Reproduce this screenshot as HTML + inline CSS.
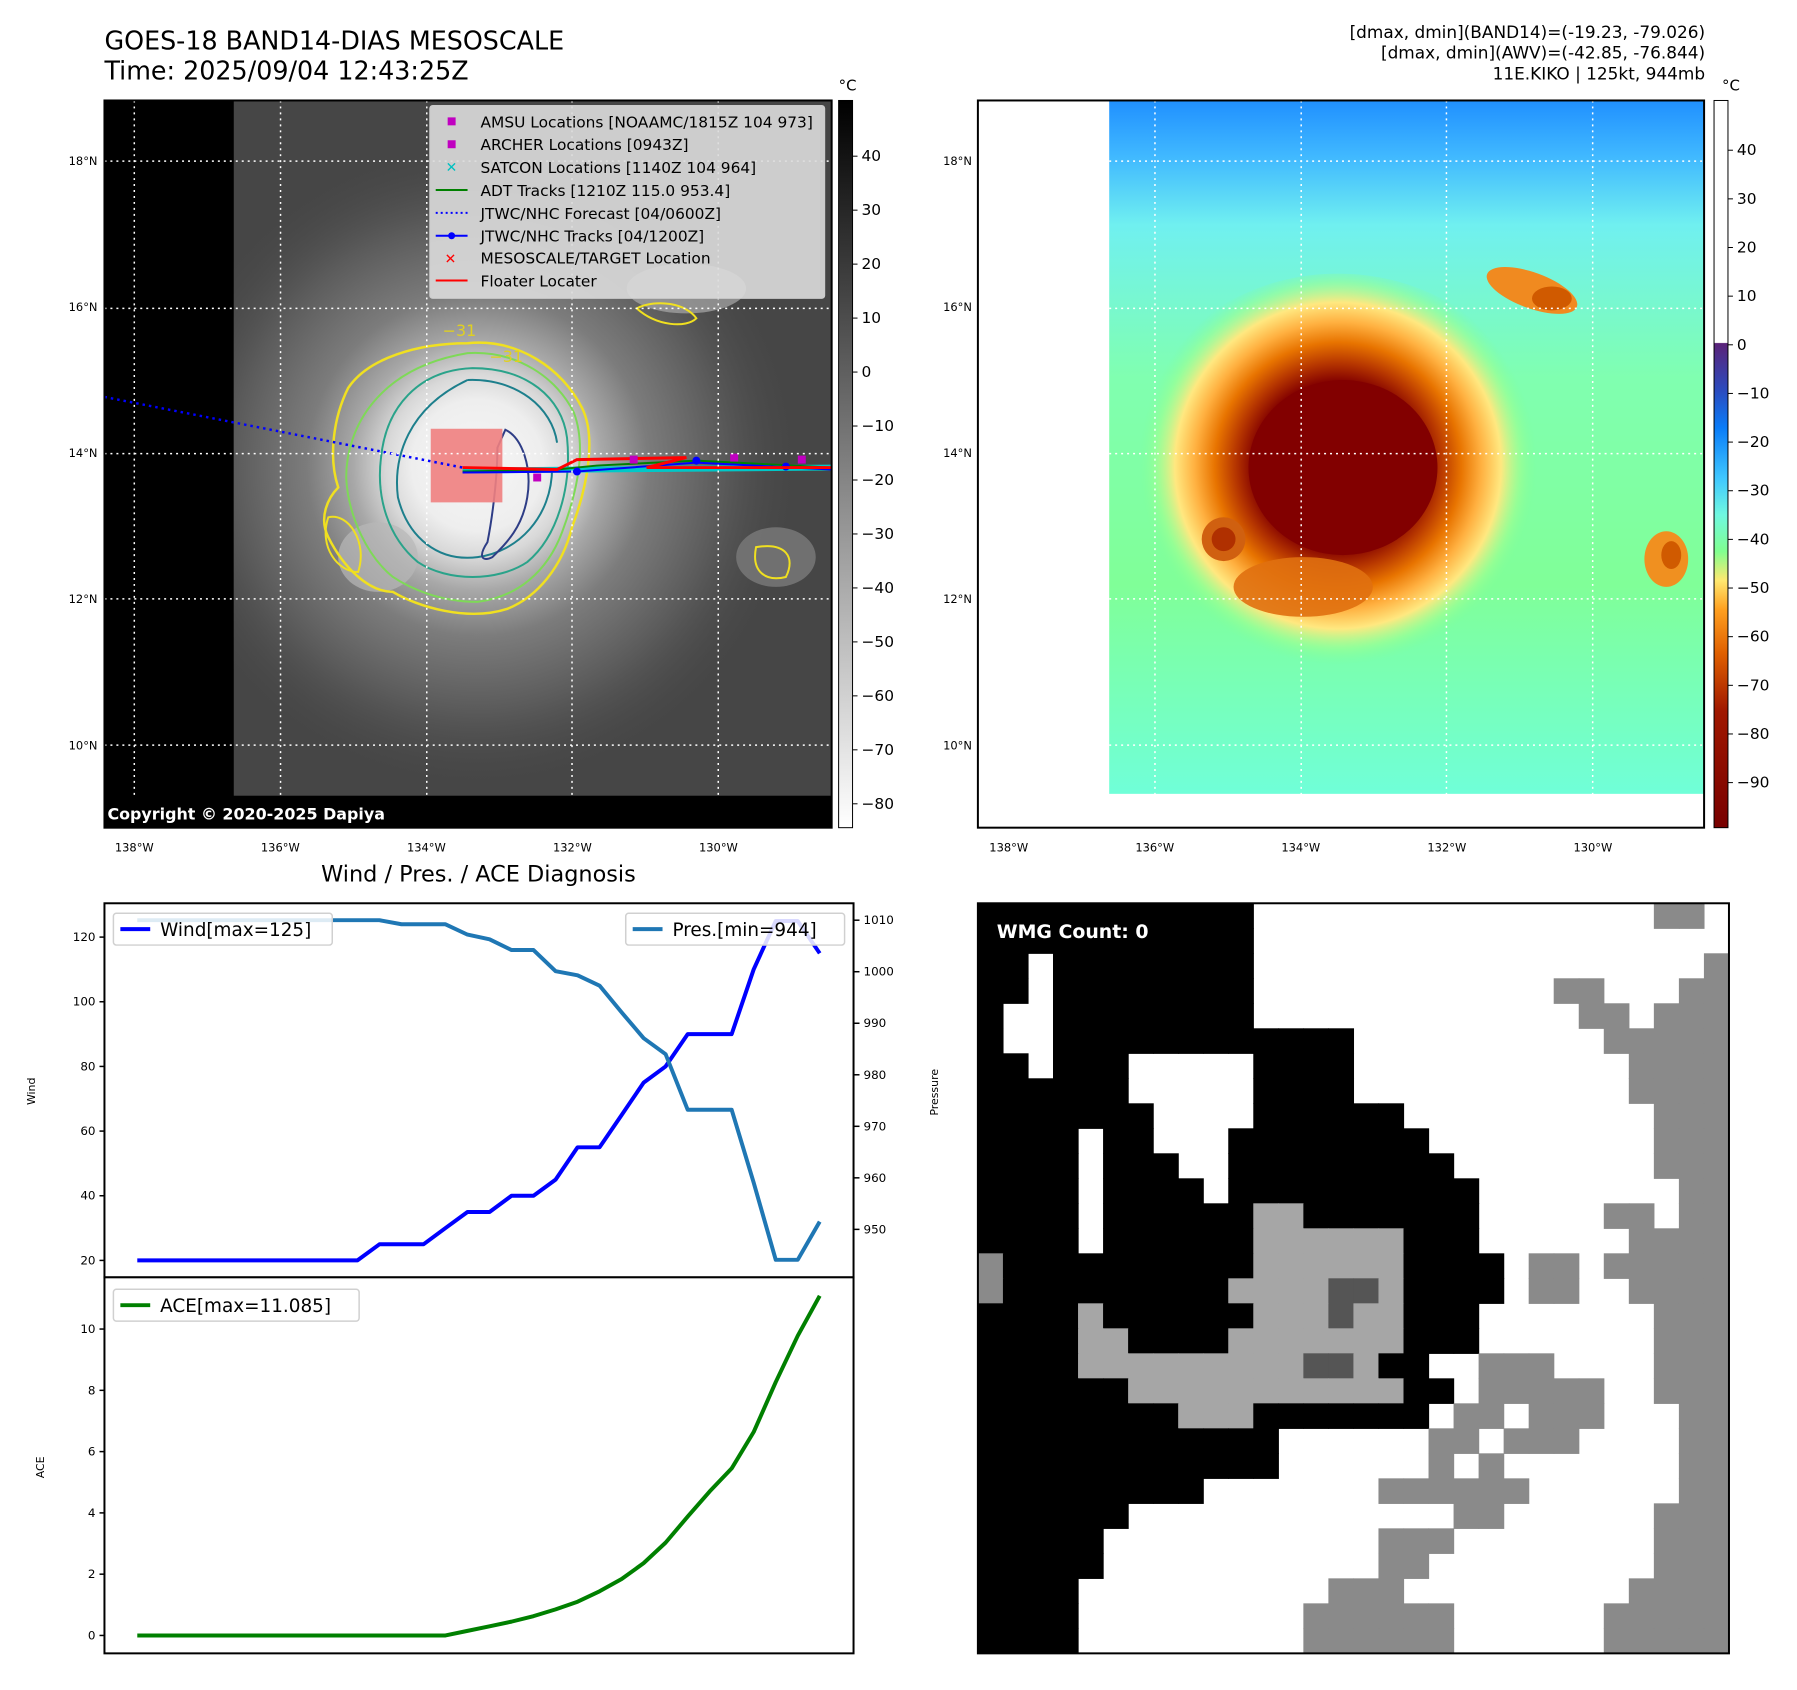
<!DOCTYPE html>
<html><head><meta charset="utf-8">
<style>
html,body{margin:0;padding:0;background:#fff;}
body{width:1797px;height:1690px;position:relative;overflow:hidden;font-family:"DejaVu Sans","Liberation Sans",sans-serif;}
svg{position:absolute;left:0;top:0;}
</style></head>
<body>
<svg id="fig" width="1797" height="1690" viewBox="0 0 1797 1690" xmlns="http://www.w3.org/2000/svg" font-family="DejaVu Sans, Liberation Sans, sans-serif">
<defs>
  <radialGradient id="stormGray" cx="480" cy="468" r="330" gradientUnits="userSpaceOnUse">
    <stop offset="0" stop-color="#f6f6f6"/>
    <stop offset="0.2" stop-color="#eeeeee"/>
    <stop offset="0.28" stop-color="#d8d8d8"/>
    <stop offset="0.38" stop-color="#a8a8a8"/>
    <stop offset="0.52" stop-color="#7c7c7c"/>
    <stop offset="0.75" stop-color="#5a5a5a"/>
    <stop offset="1" stop-color="#454545" stop-opacity="0"/>
  </radialGradient>
  <linearGradient id="cb1" x1="0" y1="0" x2="0" y2="1">
    <stop offset="0" stop-color="#000"/><stop offset="1" stop-color="#fff"/>
  </linearGradient>
  <linearGradient id="cb2" x1="0" y1="0" x2="0" y2="1">
    <stop offset="0" stop-color="#fff"/>
    <stop offset="0.333" stop-color="#fff"/>
    <stop offset="0.334" stop-color="#5a2278"/>
    <stop offset="0.40" stop-color="#2a4cc0"/>
    <stop offset="0.45" stop-color="#0a7cf8"/>
    <stop offset="0.52" stop-color="#40c8ff"/>
    <stop offset="0.57" stop-color="#70f8e0"/>
    <stop offset="0.62" stop-color="#80ff90"/>
    <stop offset="0.66" stop-color="#ffe870"/>
    <stop offset="0.70" stop-color="#ffa020"/>
    <stop offset="0.76" stop-color="#e06000"/>
    <stop offset="0.84" stop-color="#a01800"/>
    <stop offset="1" stop-color="#780000"/>
  </linearGradient>
  <linearGradient id="bg2" x1="0" y1="0" x2="0" y2="1">
    <stop offset="0" stop-color="#2090ff"/>
    <stop offset="0.08" stop-color="#40b8ff"/>
    <stop offset="0.18" stop-color="#70f0f0"/>
    <stop offset="0.4" stop-color="#80ffb0"/>
    <stop offset="0.7" stop-color="#80ff98"/>
    <stop offset="1" stop-color="#70ffd8"/>
  </linearGradient>
  <radialGradient id="stormColor" cx="1345" cy="468" r="200" gradientUnits="userSpaceOnUse">
    <stop offset="0" stop-color="#7a0000"/>
    <stop offset="0.42" stop-color="#820000"/>
    <stop offset="0.52" stop-color="#b83800"/>
    <stop offset="0.62" stop-color="#e87400"/>
    <stop offset="0.72" stop-color="#ffb040"/>
    <stop offset="0.82" stop-color="#ffe880"/>
    <stop offset="0.92" stop-color="#a0ff90" stop-opacity="0.6"/>
    <stop offset="1" stop-color="#80ff98" stop-opacity="0"/>
  </radialGradient>
  <clipPath id="clip1"><rect x="105" y="101" width="731" height="731"/></clipPath>
  <clipPath id="clip2"><rect x="983" y="101" width="730" height="731"/></clipPath>
</defs>
<g transform="scale(0.9948)">
<!-- Titles -->
<text x="105" y="50" font-size="25.5">GOES-18 BAND14-DIAS MESOSCALE</text>
<text x="105" y="80" font-size="25.5">Time: 2025/09/04 12:43:25Z</text>
<g font-size="17" text-anchor="end">
  <text x="1714" y="38">[dmax, dmin](BAND14)=(-19.23, -79.026)</text>
  <text x="1714" y="59">[dmax, dmin](AWV)=(-42.85, -76.844)</text>
  <text x="1714" y="80">11E.KIKO | 125kt, 944mb</text>
</g>

<!-- MAP 1 -->
<g clip-path="url(#clip1)">
  <rect x="105" y="101" width="731" height="731" fill="#000"/>
  <rect x="235" y="101" width="601" height="699" fill="#464646"/>
  <g clip-path="url(#clip1)">
    <rect x="235" y="101" width="601" height="699" fill="url(#stormGray)"/>
    <ellipse cx="690" cy="290" rx="60" ry="25" fill="#aaa" opacity="0.7"/>
    <ellipse cx="780" cy="560" rx="40" ry="30" fill="#7a7a7a" opacity="0.8"/>
    <ellipse cx="380" cy="560" rx="40" ry="35" fill="#b8b8b8" opacity="0.7"/>
  </g>
  <path d="M470 345 C520 340 565 370 585 410 C600 440 590 490 575 530 C565 570 540 600 510 612 C470 625 420 610 395 595 C370 595 345 570 330 540 C320 520 330 500 340 490 C330 460 335 420 350 390 C370 360 420 345 470 345 Z" fill="none" stroke="#f0e020" stroke-width="2.5"/>
  <path d="M470 355 C520 352 560 380 577 415 C590 450 580 495 565 535 C550 575 520 600 480 605 C440 605 410 590 395 580 C370 560 350 520 348 480 C348 430 380 370 470 355 Z" fill="none" stroke="#7ed957" stroke-width="2"/>
  <path d="M475 370 C530 370 565 400 570 440 C575 490 560 540 530 565 C500 585 450 585 420 565 C390 540 378 500 383 460 C388 410 420 372 475 370 Z" fill="none" stroke="#2aa38a" stroke-width="2"/>
  <path d="M470 382 C520 380 555 410 560 445 M555 470 C555 520 520 555 480 560 C440 565 410 540 400 500 C395 460 410 410 470 382" fill="none" stroke="#1d7f8c" stroke-width="2"/>
  <path d="M508 432 C525 440 535 470 530 500 C525 530 510 545 495 560 C485 565 480 560 490 545 C495 520 500 480 500 450 Z" fill="none" stroke="#2e3d86" stroke-width="2"/>
  <path d="M640 310 C660 300 690 305 700 320 C690 330 660 328 640 310 Z M760 550 C790 545 800 560 790 580 C770 585 755 575 760 550 Z M330 520 C350 515 370 545 360 575 C340 575 320 550 330 520 Z" fill="none" stroke="#f0e020" stroke-width="2"/>
  <text x="492" y="364" font-size="16" fill="#e0d020">−31</text>
  <text x="445" y="338" font-size="16" fill="#e0d020">−31</text>
  <rect x="433" y="431" width="72" height="74" fill="#f08080" opacity="0.9"/>
  <path d="M105 399 L465 470" stroke="#0000ff" stroke-width="2.5" stroke-dasharray="2.5,4" fill="none"/>
  <path d="M465 473 L836 470" stroke="#00c8c8" stroke-width="6" fill="none"/>
  <path d="M465 474 L560 472 L600 468 L700 463 L836 470" stroke="#008000" stroke-width="2" fill="none"/>
  <path d="M465 475 L580 474 L700 465 L836 472" stroke="#0000ff" stroke-width="2" fill="none"/>
  <circle cx="580" cy="474" r="4" fill="#0000ff"/><circle cx="700" cy="463" r="4" fill="#0000ff"/><circle cx="790" cy="469" r="4" fill="#0000ff"/>
  <path d="M465 470 L560 472 L580 462 L690 460 L650 470 L836 470" stroke="#ff0000" stroke-width="3" fill="none"/>
  <g fill="#c000c0"><rect x="536" y="476" width="8" height="8"/><rect x="633" y="458" width="8" height="8"/><rect x="734" y="456" width="8" height="8"/><rect x="802" y="458" width="8" height="8"/></g>
  <g stroke="#fff" stroke-width="1.5" stroke-dasharray="2,4">
    <line x1="135" y1="101" x2="135" y2="832"/><line x1="282" y1="101" x2="282" y2="832"/><line x1="429" y1="101" x2="429" y2="832"/><line x1="575" y1="101" x2="575" y2="832"/><line x1="722" y1="101" x2="722" y2="832"/>
    <line x1="105" y1="162" x2="836" y2="162"/><line x1="105" y1="310" x2="836" y2="310"/><line x1="105" y1="456" x2="836" y2="456"/><line x1="105" y1="602" x2="836" y2="602"/><line x1="105" y1="749" x2="836" y2="749"/>
  </g>
  <rect x="105" y="800" width="731" height="32" fill="#000"/>
  <text x="108" y="824" font-size="16" font-weight="bold" fill="#fff">Copyright © 2020-2025 Dapiya</text>
</g>
<rect x="105" y="101" width="731" height="731" fill="none" stroke="#000" stroke-width="2"/>

<g font-size="15.5">
  <rect x="432" y="106" width="397" height="194" rx="3" fill="#dcdcdc" fill-opacity="0.9" stroke="#ccc"/>
  <rect x="450" y="118" width="8" height="8" fill="#c000c0"/><text x="483" y="128">AMSU Locations [NOAAMC/1815Z 104 973]</text>
  <rect x="450" y="141" width="8" height="8" fill="#c000c0"/><text x="483" y="151">ARCHER Locations [0943Z]</text>
  <text x="448" y="173" fill="#00c0c0" font-size="14" font-weight="bold">✕</text><text x="483" y="174">SATCON Locations [1140Z 104 964]</text>
  <line x1="438" y1="191" x2="470" y2="191" stroke="#008000" stroke-width="2"/><text x="483" y="197">ADT Tracks [1210Z 115.0 953.4]</text>
  <line x1="438" y1="214" x2="470" y2="214" stroke="#0000ff" stroke-width="2" stroke-dasharray="2,3"/><text x="483" y="220">JTWC/NHC Forecast [04/0600Z]</text>
  <line x1="438" y1="237" x2="470" y2="237" stroke="#0000ff" stroke-width="2"/><circle cx="454" cy="237" r="3.5" fill="#0000ff"/><text x="483" y="243">JTWC/NHC Tracks [04/1200Z]</text>
  <text x="447" y="265" fill="#ff0000" font-size="14" font-weight="bold">✕</text><text x="483" y="265">MESOSCALE/TARGET Location</text>
  <line x1="438" y1="282" x2="470" y2="282" stroke="#ff0000" stroke-width="2"/><text x="483" y="288">Floater Locater</text>
</g>

<g>
  <rect x="843" y="101" width="14" height="731" fill="url(#cb1)" stroke="#000" stroke-width="1"/>
  <text x="852" y="91" font-size="15" text-anchor="middle">°C</text>
  <g font-size="15.5" id="cb1labels"></g>
</g>

<!-- MAP 2 -->
<g clip-path="url(#clip2)">
  <rect x="983" y="101" width="730" height="731" fill="#fff"/>
  <rect x="1115" y="101" width="598" height="697" fill="url(#bg2)"/>
  <ellipse cx="1345" cy="475" rx="215" ry="200" fill="url(#stormColor)"/>
  <ellipse cx="1350" cy="470" rx="95" ry="88" fill="#820000"/>
  <ellipse cx="1230" cy="542" rx="22" ry="22" fill="#d06010"/>
  <ellipse cx="1230" cy="542" rx="12" ry="12" fill="#b03000"/>
  <ellipse cx="1540" cy="292" rx="48" ry="18" fill="#f08a20" transform="rotate(20 1540 292)"/>
  <ellipse cx="1560" cy="300" rx="20" ry="12" fill="#d05a00"/>
  <ellipse cx="1675" cy="562" rx="22" ry="28" fill="#f09020"/>
  <ellipse cx="1680" cy="558" rx="10" ry="14" fill="#d05a00"/>
  <ellipse cx="1310" cy="590" rx="70" ry="30" fill="#e07010" opacity="0.9"/>
  <g stroke="#fff" stroke-width="1.5" stroke-dasharray="2,4">
    <line x1="1014" y1="101" x2="1014" y2="832"/><line x1="1161" y1="101" x2="1161" y2="832"/><line x1="1308" y1="101" x2="1308" y2="832"/><line x1="1454" y1="101" x2="1454" y2="832"/><line x1="1601" y1="101" x2="1601" y2="832"/>
    <line x1="983" y1="162" x2="1713" y2="162"/><line x1="983" y1="310" x2="1713" y2="310"/><line x1="983" y1="456" x2="1713" y2="456"/><line x1="983" y1="602" x2="1713" y2="602"/><line x1="983" y1="749" x2="1713" y2="749"/>
  </g>
</g>
<rect x="983" y="101" width="730" height="731" fill="none" stroke="#000" stroke-width="2"/>

<g>
  <rect x="1723" y="101" width="14" height="731" fill="url(#cb2)" stroke="#000" stroke-width="1"/>
  <text x="1740" y="91" font-size="15" text-anchor="middle">°C</text>
  <g font-size="15.5" id="cb2labels"></g>
</g>

<g font-size="11.5" id="maplabels"></g>

<text x="481" y="886" font-size="22.5" text-anchor="middle">Wind / Pres. / ACE Diagnosis</text>
<g id="charts"></g>

<g id="wmg"></g>
<rect x="983" y="908" width="755" height="754" fill="none" stroke="#000" stroke-width="2"/>
<text x="1002" y="943" font-size="19" font-weight="bold" fill="#fff">WMG Count: 0</text>
</g>
</svg>

<script>
const windValues = [20,20,20,20,20,20,20,20,20,20,20,25,25,25,30,35,35,40,40,45,55,55,65,75,80,90,90,90,110,125,125,115];
const presValues = [1010,1010,1010,1010,1010,1010,1010,1010,1010,1010,1010,1010,1009.2,1009.2,1009.2,1007.2,1006.3,1004.2,1004.2,1000.1,999.3,997.3,992.1,987.1,984,973.2,973.2,973.2,959.1,944.1,944.1,951.5];
const aceValues = [0,0,0,0,0,0,0,0,0,0,0,0,0,0,0,0.15,0.3,0.45,0.63,0.85,1.1,1.44,1.84,2.36,3.03,3.88,4.7,5.45,6.64,8.27,9.78,11.085];
const windTicks = [20,40,60,80,100,120];
const presTicks = [950,960,970,980,990,1000,1010];
const aceTicks = [0,2,4,6,8,10];
const cb1Ticks = [40,30,20,10,0,-10,-20,-30,-40,-50,-60,-70,-80];
const cb2Ticks = [40,30,20,10,0,-10,-20,-30,-40,-50,-60,-70,-80,-90];
const latLabels = ["18°N","16°N","14°N","12°N","10°N"];
const latValues = [18,16,14,12,10];
const lonLabels = ["138°W","136°W","134°W","132°W","130°W"];
const lonValues = [-138,-136,-134,-132,-130];

const NS = "http://www.w3.org/2000/svg";
function mk(tag, attrs, parent){const e=document.createElementNS(NS,tag);for(const k in attrs)e.setAttribute(k,attrs[k]);parent.appendChild(e);return e;}

const xIdx = i => 138 + i*22.13;
const yWind = v => 942 - (v-120)*3.25;
const yPres = p => 925 - (p-1010)*5.18;
const yAce = a => 1644 - a*30.8;
const yCb1 = t => 157 + (40-t)*5.425;
const yCb2 = t => 151 + (40-t)*4.89;
const yLat = la => 162 + (18-la)*73.4;
const xLon1 = lo => 135 + (lo+138)*73.4;
const xLon2 = lo => 1014 + (lo+138)*73.4;

const g1 = document.getElementById('cb1labels');
cb1Ticks.forEach(t=>{
  const l = mk('line',{x1:857,y1:yCb1(t),x2:862,y2:yCb1(t),stroke:'#000'},g1);
  
  
  const tx = mk('text',{x:866,y:yCb1(t)+5},g1); tx.textContent = (t<0?'−'+(-t):t);
  
  
});
const g2 = document.getElementById('cb2labels');
cb2Ticks.forEach(t=>{
  const l = mk('line',{x1:1737,y1:yCb2(t),x2:1742,y2:yCb2(t),stroke:'#000'},g2);
  
  
  const tx = mk('text',{x:1746,y:yCb2(t)+5},g2); tx.textContent = (t<0?'−'+(-t):t);
  
  
});

const ml = document.getElementById('maplabels');
latValues.forEach((la,i)=>{
  [98,977].forEach(x=>{
    const t = mk('text',{x:x,y:yLat(la)+4,'text-anchor':'end'},ml); t.textContent = latLabels[i];
    
    
  });
});
lonValues.forEach((lo,i)=>{
  [xLon1(lo), xLon2(lo)].forEach(x=>{
    const t = mk('text',{x:x,y:856,'text-anchor':'middle'},ml); t.textContent = lonLabels[i];
    
    
  });
});

const ch = document.getElementById('charts');
const wbox = mk('rect',{x:105,y:908,width:753,height:376,fill:'#fff',stroke:'#000','stroke-width':2},ch);


const abox = mk('rect',{x:105,y:1284,width:753,height:378,fill:'#fff',stroke:'#000','stroke-width':2},ch);



windTicks.forEach(v=>{
  mk('line',{x1:100,y1:yWind(v),x2:105,y2:yWind(v),stroke:'#000','stroke-width':1.5},ch);
  const t = mk('text',{x:96,y:yWind(v)+4,'font-size':12,'text-anchor':'end'},ch); t.textContent=v;
  
  
});
presTicks.forEach(v=>{
  mk('line',{x1:858,y1:yPres(v),x2:864,y2:yPres(v),stroke:'#000','stroke-width':1.5},ch);
  const t = mk('text',{x:868,y:yPres(v)+4,'font-size':12},ch); t.textContent=v;
  
  
});
aceTicks.forEach(v=>{
  mk('line',{x1:100,y1:yAce(v),x2:105,y2:yAce(v),stroke:'#000','stroke-width':1.5},ch);
  const t = mk('text',{x:96,y:yAce(v)+4,'font-size':12,'text-anchor':'end'},ch); t.textContent=v;
  
  
});
const yl1 = mk('text',{x:35,y:1097,'font-size':11,'text-anchor':'middle',transform:'rotate(-90 35 1097)'},ch); yl1.textContent='Wind';


const yl2 = mk('text',{x:943,y:1098,'font-size':11,'text-anchor':'middle',transform:'rotate(-90 943 1098)'},ch); yl2.textContent='Pressure';


const yl3 = mk('text',{x:44,y:1475,'font-size':11,'text-anchor':'middle',transform:'rotate(-90 44 1475)'},ch); yl3.textContent='ACE';



function pts(arr, fy){return arr.map((v,i)=>xIdx(i).toFixed(1)+','+fy(v).toFixed(1)).join(' ');}
const wl = mk('polyline',{points:pts(windValues,yWind),fill:'none',stroke:'#0000ff','stroke-width':4,'stroke-linejoin':'round'},ch);


const pl = mk('polyline',{points:pts(presValues,yPres),fill:'none',stroke:'#1f77b4','stroke-width':4,'stroke-linejoin':'round'},ch);


const al = mk('polyline',{points:pts(aceValues,yAce),fill:'none',stroke:'#008000','stroke-width':4,'stroke-linejoin':'round'},ch);



function legend(x,y,w,color,label,name){
  const g = mk('g',{},ch);
  
  
  mk('rect',{x:x,y:y,width:w,height:32,rx:3,fill:'#fff','fill-opacity':0.85,stroke:'#d0d0d0','stroke-width':1.5},g);
  mk('line',{x1:x+7,y1:y+16,x2:x+37,y2:y+16,stroke:color,'stroke-width':4},g);
  const t = mk('text',{x:x+47,y:y+23,'font-size':18.5},g); t.textContent=label;
}
legend(114,918,220,'#0000ff','Wind[max=125]','wind-legend');
legend(629,918,220,'#1f77b4','Pres.[min=944]','pressure-legend');
legend(114,1296,247,'#008000','ACE[max=11.085]','ace-legend');

const wmgRows = [
"KKKKKKKKKKKWWWWWWWWWWWWWWWWGGW",
"KKKKKKKKKKKWWWWWWWWWWWWWWWWWWW",
"KKWKKKKKKKKWWWWWWWWWWWWWWWWWWG",
"KKWKKKKKKKKWWWWWWWWWWWWGGWWWGG",
"KWWKKKKKKKKWWWWWWWWWWWWWGGWGGG",
"KWWKKKKKKKKKKKKWWWWWWWWWWGGGGG",
"KKWKKKWWWWWKKKKWWWWWWWWWWWGGGG",
"KKKKKKWWWWWKKKKWWWWWWWWWWWGGGG",
"KKKKKKKWWWWKKKKKKWWWWWWWWWWGGG",
"KKKKWKKWWWKKKKKKKKWWWWWWWWWGGG",
"KKKKWKKKWWKKKKKKKKKWWWWWWWWGGG",
"KKKKWKKKKWKKKKKKKKKKWWWWWWWWGG",
"KKKKWKKKKKKLLKKKKKKKWWWWWGGWGG",
"KKKKWKKKKKKLLLLLLKKKWWWWWWGGGG",
"GKKKKKKKKKKLLLLLLKKKKWGGWGGGGG",
"GKKKKKKKKKLLLLDDLKKKKWGGWWGGGG",
"KKKKLKKKKKKLLLDLLKKKWWWWWWWGGG",
"KKKKLLKKKKLLLLLLLKKKWWWWWWWGGG",
"KKKKLLLLLLLLLDDLKKWWGGGWWWWGGG",
"KKKKKKLLLLLLLLLLLKKWGGGGGWWGGG",
"KKKKKKKKLLLKKKKKKKWGGWGGGWWWGG",
"KKKKKKKKKKKKWWWWWWGGWGGGWWWWGG",
"KKKKKKKKKKKKWWWWWWGWGWWWWWWWGG",
"KKKKKKKKKWWWWWWWGGGGGGWWWWWWGG",
"KKKKKKWWWWWWWWWWWWWGGWWWWWWGGG",
"KKKKKWWWWWWWWWWWGGGWWWWWWWWGGG",
"KKKKKWWWWWWWWWWWGGWWWWWWWWWGGG",
"KKKKWWWWWWWWWWGGGWWWWWWWWWGGGG",
"KKKKWWWWWWWWWGGGGGGWWWWWWGGGGG",
"KKKKWWWWWWWWWGGGGGGWWWWWWGGGGG"];
const wmgColors = {K:'#000',W:'#fff',G:'#8a8a8a',L:'#a6a6a6',D:'#555'};
const wg = document.getElementById('wmg');
const cw = 755/30, chh = 754/30;
wmgRows.forEach((row,r)=>{
  for(let c=0;c<row.length;c++){
    const ch2 = row[c];
    if(ch2==='W') continue;
    const cell = mk('rect',{x:(983+c*cw).toFixed(2),y:(908+r*chh).toFixed(2),width:(cw+0.6).toFixed(2),height:(chh+0.6).toFixed(2),fill:wmgColors[ch2]},wg);
    
    
  }
});
</script>
</body></html>
